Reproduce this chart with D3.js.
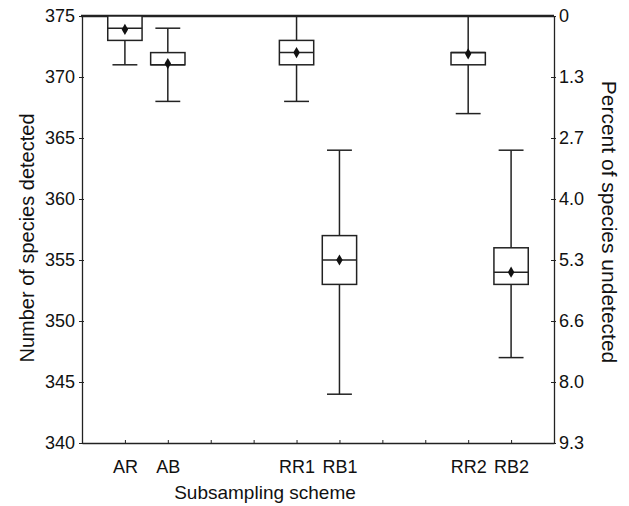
<!DOCTYPE html>
<html>
<head>
<meta charset="utf-8">
<script src="https://cdn.jsdelivr.net/npm/d3@7"></script>
<style>
  body { margin: 0; background: #fff; }
  svg text { font-family: "Liberation Sans", Arial, Helvetica, sans-serif; fill: #111; }
</style>
</head>
<body>
<div id="chart"></div>
<script>
// Data
const schemes = ["AR", "AB", "RR1", "RB1", "RR2", "RB2"];
const positions = [1, 2, 5, 6, 9, 10];
const whiskerLow = [371, 368, 368, 344, 367, 347];
const q1 = [373, 371, 371, 353, 371, 353];
const median = [374, 371, 372, 355, 372, 354];
const q3 = [375, 372, 373, 357, 372, 356];
const whiskerHigh = [375, 374, 375, 364, 375, 364];
const means = [373.9, 371.1, 372, 355, 371.9, 354];

const leftTicks = [340, 345, 350, 355, 360, 365, 370, 375];
const rightTickLabels = ["9.3", "8.0", "6.6", "5.3", "4.0", "2.7", "1.3", "0"];
const xTicks = [1, 2, 3, 4, 5, 6, 7, 8, 9, 10];

const width = 629, height = 506;
const margin = { top: 16, right: 75, bottom: 63, left: 82 };
const innerW = width - margin.left - margin.right;
const innerH = height - margin.top - margin.bottom;
const stroke = "#222";

const svg = d3.select("#chart").append("svg")
    .attr("width", width)
    .attr("height", height);

const g = svg.append("g")
    .attr("transform", `translate(${margin.left}, ${margin.top})`);

const x = d3.scaleLinear().domain([0, 11]).range([0, innerW]);
const y = d3.scaleLinear().domain([340, 375]).range([innerH, 0]);

// Left axis
const leftAxis = g.append("g")
    .call(d3.axisLeft(y).tickValues(leftTicks).tickSizeInner(3).tickSizeOuter(0).tickPadding(4));
leftAxis.selectAll("line").attr("x1", 2).attr("stroke", stroke);
leftAxis.select(".domain").attr("stroke", stroke).attr("stroke-width", 1.3);
leftAxis.selectAll("text").style("font-size", "18px").style("fill", "#111");

// Right axis (percent undetected)
const rightAxis = g.append("g")
    .attr("transform", `translate(${innerW}, 0)`)
    .call(d3.axisRight(y).tickValues(leftTicks)
        .tickFormat((d, i) => rightTickLabels[i])
        .tickSizeInner(2).tickSizeOuter(0).tickPadding(3));
rightAxis.selectAll("line").attr("x1", -3).attr("stroke", stroke);
rightAxis.select(".domain").attr("stroke", stroke).attr("stroke-width", 1.3);
rightAxis.selectAll("text").style("font-size", "18px").style("fill", "#111");

// Bottom axis
const bottomAxis = g.append("g")
    .attr("transform", `translate(0, ${innerH})`)
    .call(d3.axisBottom(x).tickValues(xTicks).tickSizeInner(1).tickSizeOuter(0)
        .tickFormat(d => {
            const i = positions.indexOf(d);
            return i >= 0 ? schemes[i] : "";
        })
        .tickPadding(16));
bottomAxis.selectAll("line").attr("y1", -3).attr("stroke", stroke);
bottomAxis.select(".domain").attr("stroke", stroke).attr("stroke-width", 1.3);
bottomAxis.selectAll("text").style("font-size", "18px").style("fill", "#111");

// Thick top border
g.append("line")
    .attr("x1", -1).attr("x2", innerW)
    .attr("y1", 0).attr("y2", 0)
    .attr("stroke", stroke)
    .attr("stroke-width", 2.6);

// Boxes
const boxes = schemes.map((s, i) => ({
    name: s, pos: positions[i], lo: whiskerLow[i], q1: q1[i],
    med: median[i], q3: q3[i], hi: whiskerHigh[i], mean: means[i]
}));

const boxHalf = 0.4, capHalf = 0.29;

const bx = g.selectAll(".box").data(boxes).enter().append("g").attr("class", "box");

// whisker lines
bx.append("line")
    .attr("x1", d => x(d.pos)).attr("x2", d => x(d.pos))
    .attr("y1", d => y(d.hi)).attr("y2", d => y(d.q3))
    .attr("stroke", stroke).attr("stroke-width", 1.5);
bx.append("line")
    .attr("x1", d => x(d.pos)).attr("x2", d => x(d.pos))
    .attr("y1", d => y(d.q1)).attr("y2", d => y(d.lo))
    .attr("stroke", stroke).attr("stroke-width", 1.5);

// caps
bx.append("line")
    .attr("x1", d => x(d.pos - capHalf)).attr("x2", d => x(d.pos + capHalf))
    .attr("y1", d => y(d.hi)).attr("y2", d => y(d.hi))
    .attr("stroke", stroke).attr("stroke-width", 1.5);
bx.append("line")
    .attr("x1", d => x(d.pos - capHalf)).attr("x2", d => x(d.pos + capHalf))
    .attr("y1", d => y(d.lo)).attr("y2", d => y(d.lo))
    .attr("stroke", stroke).attr("stroke-width", 1.5);

// box
bx.append("rect")
    .attr("x", d => x(d.pos - boxHalf))
    .attr("width", d => x(d.pos + boxHalf) - x(d.pos - boxHalf))
    .attr("y", d => y(d.q3))
    .attr("height", d => y(d.q1) - y(d.q3))
    .attr("fill", "#fff")
    .attr("stroke", stroke).attr("stroke-width", 1.5);

// median
bx.append("line")
    .attr("x1", d => x(d.pos - boxHalf)).attr("x2", d => x(d.pos + boxHalf))
    .attr("y1", d => y(d.med)).attr("y2", d => y(d.med))
    .attr("stroke", stroke).attr("stroke-width", 1.5);

// mean diamond
bx.append("path")
    .attr("d", d3.symbol().type(d3.symbolDiamond).size(36))
    .attr("transform", d => `translate(${x(d.pos)}, ${y(d.mean)})`)
    .attr("fill", "#111");

// Axis titles
svg.append("text")
    .attr("x", 265).attr("y", 499)
    .attr("text-anchor", "middle")
    .style("font-size", "19px")
    .text("Subsampling scheme");

svg.append("text")
    .attr("transform", `translate(34, 238) rotate(-90)`)
    .attr("text-anchor", "middle")
    .style("font-size", "20px")
    .text("Number of species detected");

svg.append("text")
    .attr("transform", `translate(602, 222) rotate(90)`)
    .attr("text-anchor", "middle")
    .style("font-size", "21px")
    .text("Percent of species undetected");
</script>
</body>
</html>
